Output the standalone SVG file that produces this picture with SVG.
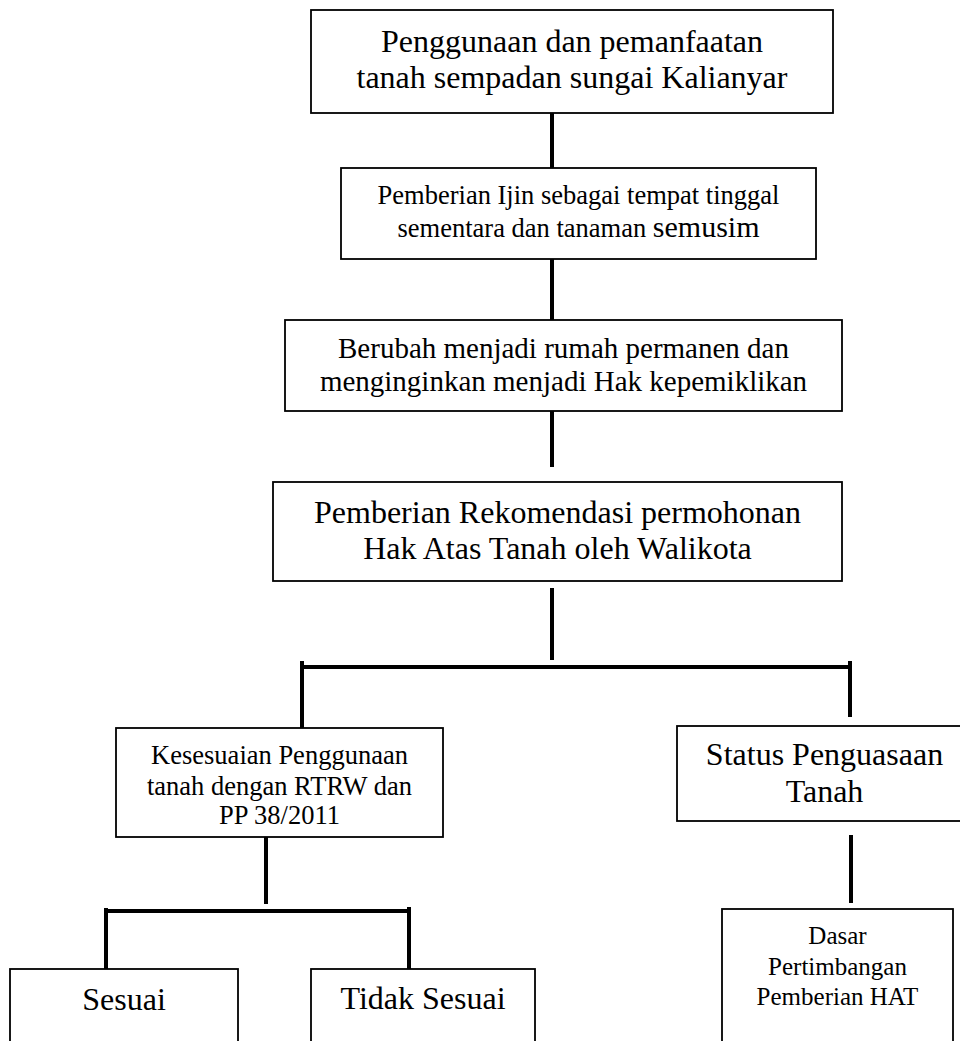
<svg xmlns="http://www.w3.org/2000/svg" width="960" height="1041" viewBox="0 0 960 1041">
<style>
.box{fill:#fff;stroke:#000;stroke-width:1.8}
.t{font-family:"Liberation Serif","Times New Roman",serif;fill:#000;text-anchor:middle}
.c{stroke:#000;stroke-width:4;fill:none}
</style>
<rect width="960" height="1041" fill="#fff"/>
<g id="connectors">
<line class="c" x1="552" y1="113" x2="552" y2="168"/>
<line class="c" x1="552" y1="259" x2="552" y2="320"/>
<line class="c" x1="552" y1="411" x2="552" y2="467"/>
<line class="c" x1="552" y1="588" x2="552" y2="660"/>
<line class="c" x1="300" y1="667" x2="852" y2="667"/>
<line class="c" x1="302" y1="661" x2="302" y2="728"/>
<line class="c" x1="850" y1="661" x2="850" y2="717"/>
<line class="c" x1="266" y1="837" x2="266" y2="904"/>
<line class="c" x1="104" y1="911" x2="411" y2="911"/>
<line class="c" x1="106" y1="908" x2="106" y2="969"/>
<line class="c" x1="409" y1="907" x2="409" y2="969"/>
<line class="c" x1="851" y1="835" x2="851" y2="903"/>
</g>
<g id="n1">
<rect class="box" x="311" y="10" width="522" height="103"/>
<text class="t" font-size="32" x="572" y="52">Penggunaan dan pemanfaatan</text>
<text class="t" font-size="32" x="572" y="88">tanah sempadan sungai Kalianyar</text>
</g>
<g id="n2">
<rect class="box" x="341" y="168" width="475" height="91"/>
<text class="t" font-size="26.5" x="578.5" y="204">Pemberian Ijin sebagai tempat tinggal</text>
<text class="t" font-size="26.5" x="578.5" y="237">sementara dan tanaman <tspan font-size="30">semusim</tspan></text>
</g>
<g id="n3">
<rect class="box" x="285" y="320" width="557" height="91"/>
<text class="t" font-size="29" x="563.5" y="358">Berubah menjadi rumah permanen dan</text>
<text class="t" font-size="29" x="563.5" y="391">menginginkan menjadi Hak kepemiklikan</text>
</g>
<g id="n4">
<rect class="box" x="273" y="482" width="569" height="99"/>
<text class="t" font-size="32" x="557.5" y="523">Pemberian Rekomendasi permohonan</text>
<text class="t" font-size="32" x="557.5" y="559">Hak Atas Tanah oleh Walikota</text>
</g>
<g id="n5">
<rect class="box" x="116" y="728" width="327" height="109"/>
<text class="t" font-size="26.5" x="279.5" y="764">Kesesuaian Penggunaan</text>
<text class="t" font-size="26.5" x="279.5" y="795">tanah dengan RTRW dan</text>
<text class="t" font-size="26.5" x="279.5" y="824">PP 38/2011</text>
</g>
<g id="n6">
<rect class="box" x="677" y="726" width="295" height="95"/>
<text class="t" font-size="32" x="824.5" y="765">Status Penguasaan</text>
<text class="t" font-size="32" x="824.5" y="802">Tanah</text>
</g>
<g id="n7">
<rect class="box" x="722" y="909" width="231" height="150"/>
<text class="t" font-size="25" x="837.5" y="944">Dasar</text>
<text class="t" font-size="25" x="837.5" y="975">Pertimbangan</text>
<text class="t" font-size="25" x="837.5" y="1005">Pemberian HAT</text>
</g>
<g id="n8">
<rect class="box" x="10" y="969" width="228" height="90"/>
<text class="t" font-size="32" x="124" y="1010">Sesuai</text>
</g>
<g id="n9">
<rect class="box" x="311" y="969" width="224" height="90"/>
<text class="t" font-size="32" x="423" y="1009">Tidak Sesuai</text>
</g>
</svg>
